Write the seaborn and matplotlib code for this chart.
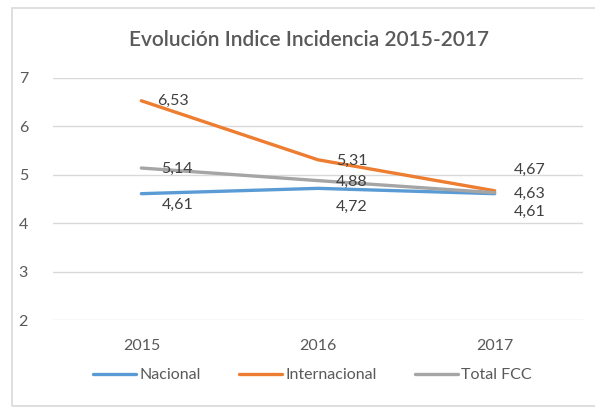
import pandas as pd
import matplotlib.pyplot as plt
import seaborn as sns
from matplotlib.lines import Line2D
from matplotlib.patches import Rectangle

# Data
years = ['2015', '2016', '2017']
nacional = [4.61, 4.72, 4.61]
internacional = [6.53, 5.31, 4.67]
total_fcc = [5.14, 4.88, 4.63]
series_names = ['Nacional', 'Internacional', 'Total FCC']
colors = ['#5B9BD5', '#ED7D31', '#A5A5A5']

df = pd.DataFrame({
    'Year': years * 3,
    'Value': nacional + internacional + total_fcc,
    'Series': [s for s in series_names for _ in years],
})
df['x'] = df['Year'].map({y: i for i, y in enumerate(years)})

sns.set_theme(style='white')
plt.rcParams['font.family'] = ['Lato', 'DejaVu Sans']

fig = plt.figure(figsize=(5.95, 4.12), dpi=100)
ax = fig.add_axes([53 / 595, 1 - 320 / 412, 530 / 595, 242 / 412])

# chart frame
fig.patches.append(Rectangle((12 / 595, 6 / 412), 590 / 595, 398 / 412,
                             transform=fig.transFigure, fill=False,
                             edgecolor='#d9d9d9', linewidth=1.2))

sns.lineplot(data=df, x='x', y='Value', hue='Series', hue_order=series_names,
             palette=colors, linewidth=2.4, legend=False, ax=ax)

ax.set_xlim(-0.5, 2.5)
ax.set_ylim(2, 7)
ax.set_yticks([2, 3, 4, 5, 6, 7])
ax.set_xticks(range(len(years)))
ax.set_xticklabels(years)
ax.yaxis.grid(True, color='#d9d9d9', linewidth=1)
ax.set_axisbelow(True)
for s in ax.spines.values():
    s.set_visible(False)
ax.tick_params(axis='both', length=0, labelsize=11.5, labelcolor='#595959')
ax.tick_params(axis='y', pad=18)
ax.tick_params(axis='x', pad=14)
ax.set_xlabel('')
ax.set_ylabel('')

# data labels (offsets in pixels, Excel style)
offsets = {
    'Nacional': [(36, -11), (34, -19), (35, -18)],
    'Internacional': [(32, 0), (34, -1), (35, 21)],
    'Total FCC': [(36, -1), (34, -1), (35, -1)],
}
for name, vals in zip(series_names, [nacional, internacional, total_fcc]):
    for i, v in enumerate(vals):
        ax.annotate(f'{v:.2f}'.replace('.', ','), (i, v),
                    xytext=offsets[name][i], textcoords='offset pixels',
                    ha='center', va='center', fontsize=11.5, color='#404040')

fig.text(0.52, 1 - 40 / 412, 'Evolución Indice Incidencia 2015-2017',
         ha='center', va='center', fontsize=15, fontweight='semibold', color='#595959')

handles = [Line2D([0], [0], color=c, linewidth=2.4) for c in colors]
fig.legend(handles, series_names, loc='center', bbox_to_anchor=(0.525, 1 - 375 / 412),
           ncol=3, frameon=False, fontsize=11.5, labelcolor='#595959',
           handlelength=2.7, handletextpad=0.2, columnspacing=2.4)

plt.savefig('out.png', dpi=100)
